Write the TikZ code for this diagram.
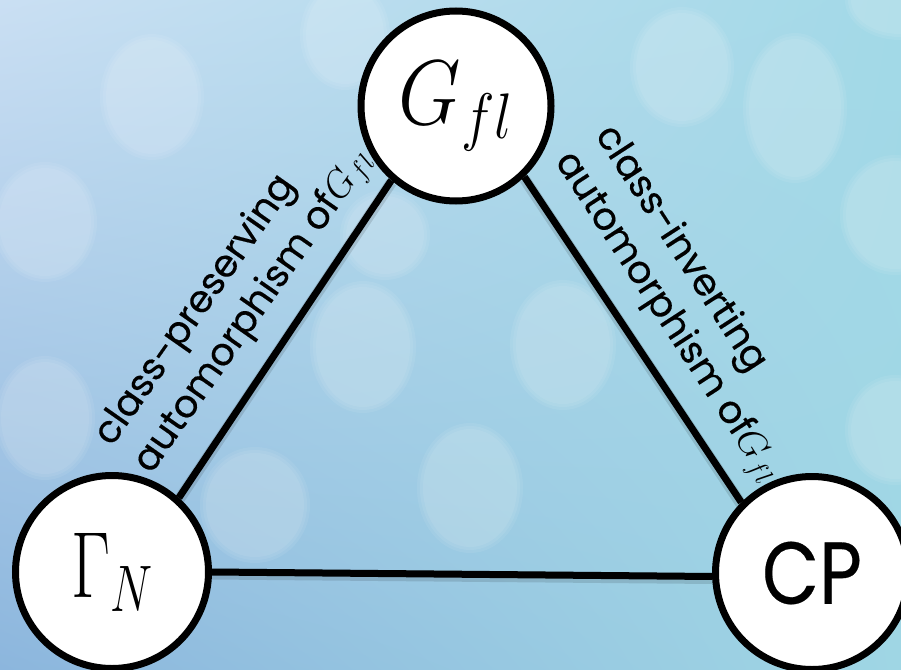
\documentclass[tikz,border=0pt]{standalone}
\usepackage{fix-cm}
\usepackage{fontspec}
\newfontfamily\handfont{Poppins}[FakeBold=0.3]
\usetikzlibrary{shadows,shadings}
\pgfdeclarelayer{back}
\pgfdeclarelayer{edgelayer}
\pgfsetlayers{back,edgelayer,main}

\definecolor{bgUL}{HTML}{CADFF3}
\definecolor{bgUR}{HTML}{A2D9E7}
\definecolor{bgLL}{HTML}{8CB6DD}
\definecolor{bgLR}{HTML}{9FD6E4}

\tikzset{
  vertex/.style={circle, draw=black, line width=7pt, fill=white,
    minimum size=193pt, inner sep=0pt,
    drop shadow={opacity=0.22, shadow xshift=1.5pt, shadow yshift=-2.5pt}},
  link/.style={draw=black, line width=7pt},
  linkshade/.style={draw=black, line width=11pt, opacity=0.12},
  lbl/.style={font=\handfont\fontsize{38}{48}\selectfont, inner sep=0pt,
    align=left, anchor=west, text=black},
  bokeh/.style={fill=white, opacity=0.07}
}

\begin{document}
\begin{tikzpicture}[x=1pt, y=-1pt]
\useasboundingbox (0,0) rectangle (901,669);

% backdrop: soft blue gradient with out-of-focus light spots
\begin{pgfonlayer}{back}
  \shade[upper left=bgUL, upper right=bgUR, lower left=bgLL, lower right=bgLR]
    (0,0) rectangle (901,669);
  \foreach \cx/\cy/\rx/\ry in {
      152/97/52/63, 45/222/52/60, 45/418/50/62, 345/35/45/55,
      682/67/52/60, 795/108/52/75, 895/215/55/60, 895/430/50/55,
      363/347/53/66, 563/345/53/65, 470/488/53/65, 255/505/55/58,
      900/0/55/40, 385/235/45/45}{
    \fill[bokeh] (\cx,\cy) ellipse [x radius=\rx, y radius=\ry];
    \fill[bokeh] (\cx,\cy) ellipse [x radius=\rx-3, y radius=\ry-3];
    \fill[bokeh] (\cx,\cy) ellipse [x radius=\rx-6, y radius=\ry-6];
  }
\end{pgfonlayer}

% the three vertices
\node[vertex, minimum size=190pt] (T) at (456,106)
  {\fontsize{92}{92}\selectfont\scalebox{0.88}[1]{$G_{fl}$}};
\node[vertex] (L) at (112,572)
  {\fontsize{94}{94}\selectfont\scalebox{0.72}[1]{$\Gamma_{N}$}};
\node[vertex] (R) at (812,573)
  {\handfont\fontsize{88}{88}\selectfont\scalebox{0.84}[1]{CP}};

% connecting sides
\begin{pgfonlayer}{edgelayer}
  \draw[linkshade] ([yshift=-2pt]L.48) -- ([yshift=-2pt]T.229);
  \draw[linkshade] ([yshift=-2pt]T.314) -- ([yshift=-2pt]R.135);
  \draw[linkshade] ([yshift=-2pt]L.0) -- ([yshift=-2pt]R.182);
  \draw[link] (L.48) -- (T.229);
  \draw[link] (T.314) -- (R.135);
  \draw[link] (L.0) -- (R.182);
\end{pgfonlayer}

% side labels
\node[lbl, rotate=55] (lp) at (124,456)
  {class-preserving\\automorphism of$G_{fl}$};
\node[lbl, rotate=-57] (li) at (582,143)
  {class-inverting\\automorphism of$G_{fl}$};
\end{tikzpicture}
\end{document}
